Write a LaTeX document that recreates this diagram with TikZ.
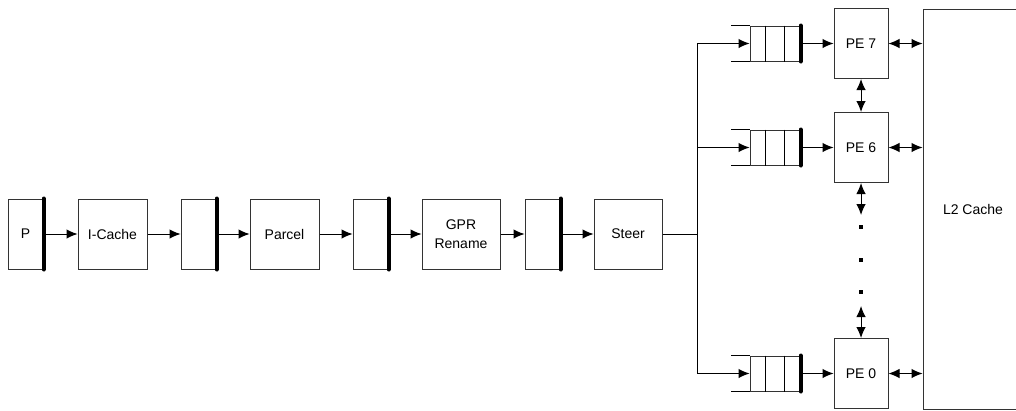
\documentclass[tikz,border=0pt]{standalone}
\usepackage{fontspec}
\setmainfont{Liberation Sans}
\usetikzlibrary{arrows.meta}

\begin{document}
\begin{tikzpicture}[x=1pt, y=-1pt, line width=1pt,
    blk/.style={draw=black!80, minimum height=70pt, inner sep=0pt, align=center, font=\fontsize{14}{19}\selectfont},
    latch/.style={blk, minimum width=35pt},
    pe/.style={blk, minimum width=54pt},
    fifo/.style={draw=black!80, minimum width=50pt, minimum height=35pt, inner sep=0pt},
    bar/.style={line width=4pt, line cap=round},
    arr/.style={-{Latex[length=11pt,width=9.5pt]}},
    darr/.style={{Latex[length=11pt,width=9.5pt]}-{Latex[length=11pt,width=9.5pt]}},
    dot/.style={fill, inner sep=0pt, minimum size=3.5pt}]

    \useasboundingbox (0,0) rectangle (1016,410);

    \node[latch] (p) at (25.5,234) {P};
    \node[blk, minimum width=69pt] (icache) at (112.5,234) {I-Cache};
    \node[latch] (lat1) at (198.5,234) {};
    \node[blk, minimum width=69pt] (parcel) at (284.5,234) {Parcel};
    \node[latch] (lat2) at (370.5,234) {};
    \node[blk, minimum width=78pt] (gpr) at (461,234) {GPR\\Rename};
    \node[latch] (lat3) at (542.5,234) {};
    \node[blk, minimum width=68pt] (steer) at (628,234) {Steer};

    \foreach \n in {p,lat1,lat2,lat3}
        \draw[bar] (\n.north east) -- (\n.south east);

    \draw[arr] (p.east) -- (icache.west);
    \draw[arr] (icache.east) -- (lat1.west);
    \draw[arr] (lat1.east) -- (parcel.west);
    \draw[arr] (parcel.east) -- (lat2.west);
    \draw[arr] (lat2.east) -- (gpr.west);
    \draw[arr] (gpr.east) -- (lat3.west);
    \draw[arr] (lat3.east) -- (steer.west);

    \coordinate (bus) at (697,234);
    \draw (steer.east) -- (bus);

    \node[fifo] (q7) at (775,43.5) {};
    \node[fifo] (q6) at (775,147.5) {};
    \node[fifo] (q0) at (775,373.5) {};

    \node[pe] (pe7) at (861,43.5) {PE 7};
    \node[pe] (pe6) at (861,147.5) {PE 6};
    \node[pe] (pe0) at (861,373.5) {PE 0};
    \node[blk, minimum width=100pt, minimum height=400pt] (l2c) at (973,209) {L2 Cache};

    \draw (q7.west -| bus) -- (q0.west -| bus);

    \foreach \i in {7,6,0} {
        \draw (q\i.north west) -- ++(-19,0);
        \draw (q\i.south west) -- ++(-19,0);
        \draw ([xshift=16pt]q\i.north west) -- ([xshift=16pt]q\i.south west);
        \draw ([xshift=35pt]q\i.north west) -- ([xshift=35pt]q\i.south west);
        \draw[bar] (q\i.north east) -- (q\i.south east);
        \draw[arr] (q\i.west -| bus) -- (q\i.west);
        \draw[arr] (q\i.east) -- (pe\i.west);
        \draw[darr] (pe\i.east) -- (pe\i.east -| l2c.west);
    }

    \coordinate (d1) at (861,215);
    \coordinate (d2) at (861,306);
    \draw[darr] (pe7.south) -- (pe6.north);
    \draw[darr] (pe6.south) -- (d1);
    \draw[darr] (d2) -- (pe0.north);

    \node[dot] (dot1) at (861,227) {};
    \node[dot] (dot2) at (861,260) {};
    \node[dot] (dot3) at (861,292) {};
\end{tikzpicture}
\end{document}
